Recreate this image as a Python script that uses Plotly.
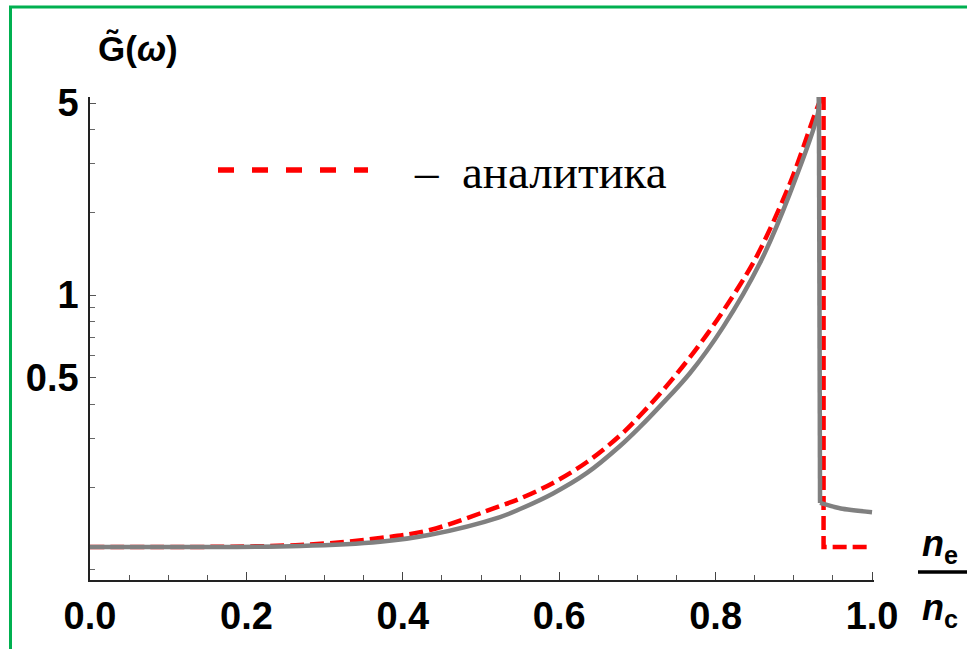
import plotly.graph_objects as go

# ---- data ----
ne_gray = [0.0, 0.2685, 0.371, 0.4348, 0.5243, 0.5499, 0.5921, 0.6355, 0.6777, 0.7033,
           0.7289, 0.7673, 0.8095, 0.8568, 0.8951, 0.9309, 0.932, 0.9335, 0.96, 1.0]
G_gray = [0.121, 0.122, 0.1264, 0.134, 0.1555, 0.1663, 0.1895, 0.225, 0.282, 0.331,
          0.394, 0.520, 0.764, 1.31, 2.35, 4.6, 5.3, 0.175, 0.167, 0.162]

ne_red = [0.0, 0.2685, 0.371, 0.4348, 0.5243, 0.5499, 0.5921, 0.6355, 0.6777, 0.7033,
          0.7455, 0.789, 0.8312, 0.8529, 0.8951, 0.9335, 0.938, 0.938, 1.0]
G_red = [0.121, 0.123, 0.1304, 0.1395, 0.1705, 0.1815, 0.207, 0.2466, 0.308, 0.364,
         0.497, 0.719, 1.09, 1.39, 2.55, 5.07, 5.3, 0.121, 0.121]

# index of the peak: smooth rise before it, straight drop/tail after it
peak_gray = 16
peak_red = 16

x_major = [0.0, 0.2, 0.4, 0.6, 0.8, 1.0]
x_major_text = ["0.0", "0.2", "0.4", "0.6", "0.8", "1.0"]
x_minor = [0.05, 0.1, 0.15, 0.25, 0.3, 0.35, 0.45, 0.5, 0.55, 0.65, 0.7, 0.75, 0.85, 0.9, 0.95]
y_major = [0.5, 1, 5]
y_major_text = ["0.5", "1", "5"]
y_minor = [0.1, 0.2, 0.3, 0.4, 0.6, 0.7, 0.8, 0.9, 2, 3, 4]

legend_text = "–\u00a0\u00a0аналитика"
y_title = "<b>G̃(<i>ω</i>)</b>"
x_num = "<b><i>n</i><sub>e</sub></b>"
x_den = "<b><i>n</i><sub>c</sub></b>"

RED = "rgb(255,0,0)"
GRAY = "rgb(128,128,128)"

# ---- figure ----
fig = go.Figure()
red_line = dict(color=RED, width=4.5, dash="14px,6px")
gray_line = dict(color=GRAY, width=4.5)

fig.add_trace(go.Scatter(x=ne_red[:peak_red + 1], y=G_red[:peak_red + 1], mode="lines",
                         line=dict(red_line, shape="spline", smoothing=1.0), showlegend=False))
fig.add_trace(go.Scatter(x=ne_red[peak_red:], y=G_red[peak_red:], mode="lines",
                         line=red_line, showlegend=False))
fig.add_trace(go.Scatter(x=ne_gray[:peak_gray + 1], y=G_gray[:peak_gray + 1], mode="lines",
                         line=dict(gray_line, shape="spline", smoothing=1.0), showlegend=False))
fig.add_trace(go.Scatter(x=ne_gray[peak_gray:peak_gray + 2], y=G_gray[peak_gray:peak_gray + 2],
                         mode="lines", line=gray_line, showlegend=False))
fig.add_trace(go.Scatter(x=ne_gray[peak_gray + 1:], y=G_gray[peak_gray + 1:], mode="lines",
                         line=dict(gray_line, shape="spline", smoothing=0.6), showlegend=False))

L, R, T, B = 90, 93, 97, 69
W, H = 967, 649
pw, ph = W - L - R, H - T - B


def px(xp):
    return (xp - L) / pw


def py(yp):
    return (H - B - yp) / ph


tickfont = dict(family="Liberation Sans, Arial, sans-serif", size=38, color="black", weight="bold")

fig.update_layout(
    width=W, height=H,
    margin=dict(l=L, r=R, t=T, b=B),
    paper_bgcolor="white", plot_bgcolor="white",
    showlegend=False,
    xaxis=dict(range=[0, 1.0025], showgrid=False, zeroline=False,
               showline=True, linecolor="#222", linewidth=1.5,
               tickvals=x_major, ticktext=x_major_text,
               ticks="inside", ticklen=8, tickwidth=1.2, tickcolor="#444",
               tickfont=tickfont, ticklabelstandoff=2,
               minor=dict(tickvals=x_minor, ticks="inside", ticklen=5, tickwidth=1, tickcolor="#555")),
    yaxis=dict(type="log", range=[-1.0375, 0.7208], showgrid=False, zeroline=False,
               showline=True, linecolor="#222", linewidth=1.5,
               tickvals=y_major, ticktext=y_major_text,
               ticks="inside", ticklen=6, tickwidth=1.2, tickcolor="#555",
               tickfont=tickfont, ticklabelstandoff=2,
               minor=dict(tickvals=y_minor, ticks="inside", ticklen=5, tickwidth=1, tickcolor="#666")),
)

shapes = [
    # green frame
    dict(type="rect", xref="paper", yref="paper",
         x0=px(10.5), x1=px(990), y0=py(680), y1=py(7),
         line=dict(color="rgb(0,176,80)", width=3), fillcolor="rgba(0,0,0,0)", layer="above"),
    # legend sample
    dict(type="line", xref="paper", yref="paper",
         x0=px(218), x1=px(368), y0=py(170), y1=py(170),
         line=dict(color=RED, width=5.5, dash="16px,18px")),
    # fraction bar
    dict(type="line", xref="paper", yref="paper",
         x0=px(918), x1=px(970), y0=py(572), y1=py(572),
         line=dict(color="black", width=3.5)),
]
fig.update_layout(shapes=shapes)

annots = [
    dict(text=legend_text, x=px(412), y=py(172), xref="paper", yref="paper",
         xanchor="left", yanchor="middle", showarrow=False,
         font=dict(family="Liberation Serif, Times New Roman, serif", size=47, color="black")),
    dict(text=y_title, x=px(138), y=py(48), xref="paper", yref="paper",
         xanchor="center", yanchor="middle", showarrow=False,
         font=dict(family="Liberation Sans, Arial, sans-serif", size=35, color="black")),
    dict(text=x_num, x=px(940), y=py(546), xref="paper", yref="paper",
         xanchor="center", yanchor="middle", showarrow=False,
         font=dict(family="Liberation Sans, Arial, sans-serif", size=36, color="black")),
    dict(text=x_den, x=px(940), y=py(610), xref="paper", yref="paper",
         xanchor="center", yanchor="middle", showarrow=False,
         font=dict(family="Liberation Sans, Arial, sans-serif", size=36, color="black")),
]
fig.update_layout(annotations=annots)

fig.write_html("out.html")
